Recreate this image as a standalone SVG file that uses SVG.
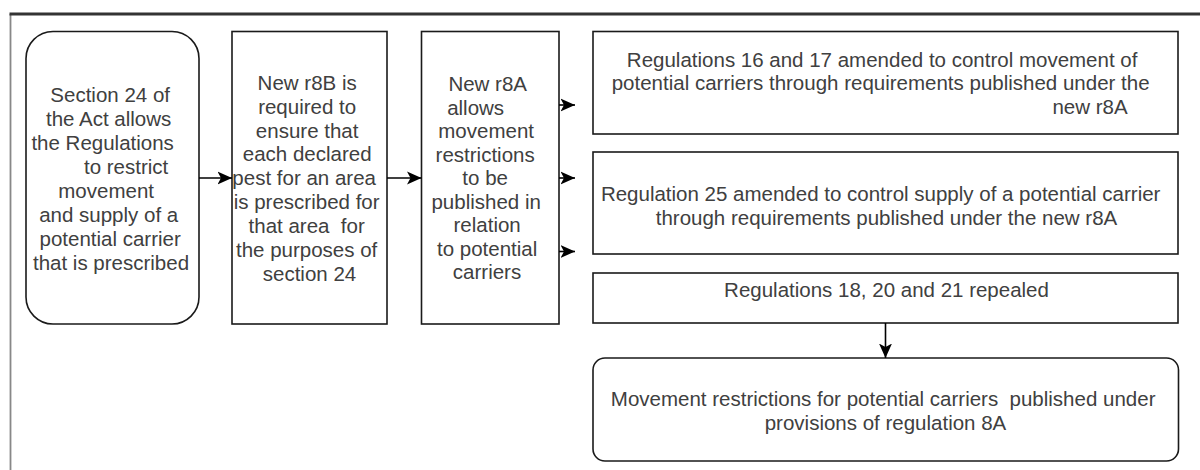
<svg xmlns="http://www.w3.org/2000/svg" width="1200" height="470" viewBox="0 0 1200 470">
  <style>
    .box { fill: #ffffff; stroke: #1a1a1a; stroke-width: 1.6; }
    .t { font-family: "Liberation Sans", Arial, sans-serif; font-size: 20.5px; fill: #404040; text-anchor: middle; }
    .edge { fill: none; stroke: #000000; stroke-width: 1.6; }
  </style>
  <defs>
    <marker id="arrow" markerUnits="userSpaceOnUse" markerWidth="15" markerHeight="14" refX="14.5" refY="7" orient="auto">
      <path d="M0,0.5 L14.5,7 L0,13.5 L3.5,7 z" fill="#000000"/>
    </marker>
  </defs>
  <rect width="1200" height="470" fill="#ffffff"/>
  <g id="frame">
    <line x1="10.5" y1="14" x2="10.5" y2="470" stroke="#888888" stroke-width="1.8"/>
    <line x1="9.5" y1="14" x2="1200" y2="14" stroke="#333333" stroke-width="3.2"/>
  </g>

  <g id="node-section24">
    <rect class="box" x="26" y="31.5" width="173" height="292.5" rx="27" ry="27"/>
    <text class="t">
      <tspan x="113" y="102">Section 24 of</tspan>
      <tspan x="111.5" y="126">the Act allows</tspan>
      <tspan x="105.5" y="150">the Regulations</tspan>
      <tspan x="129" y="174">to restrict</tspan>
      <tspan x="109" y="198">movement</tspan>
      <tspan x="111.5" y="222">and supply of a</tspan>
      <tspan x="113" y="246">potential carrier</tspan>
      <tspan x="111" y="270">that is prescribed</tspan>
    </text>
  </g>

  <g id="node-r8B">
    <rect class="box" x="232" y="31.5" width="155" height="292.5"/>
    <text class="t">
      <tspan x="310" y="89.5">New r8B is</tspan>
      <tspan x="310" y="113.5">required to</tspan>
      <tspan x="310" y="137.5">ensure that</tspan>
      <tspan x="310" y="161">each declared</tspan>
      <tspan x="307" y="185">pest for an area</tspan>
      <tspan x="309.5" y="209">is prescribed for</tspan>
      <tspan x="309.5" y="233">that area&#160; for</tspan>
      <tspan x="309.5" y="257">the purposes of</tspan>
      <tspan x="309.5" y="281">section 24</tspan>
    </text>
  </g>

  <g id="node-r8A">
    <rect class="box" x="421.5" y="31.5" width="137.5" height="292.5"/>
    <text class="t">
      <tspan x="490" y="91">New r8A</tspan>
      <tspan x="478.5" y="114.5">allows</tspan>
      <tspan x="489" y="138">movement</tspan>
      <tspan x="488" y="161.5">restrictions</tspan>
      <tspan x="488" y="185">to be</tspan>
      <tspan x="489" y="208.5">published in</tspan>
      <tspan x="490" y="232">relation</tspan>
      <tspan x="490" y="255.5">to potential</tspan>
      <tspan x="487" y="279">carriers</tspan>
    </text>
  </g>

  <g id="node-reg16-17">
    <rect class="box" x="593" y="31.5" width="585" height="102.5"/>
    <text class="t">
      <tspan x="885" y="66.5">Regulations 16 and 17 amended to control movement of</tspan>
      <tspan x="883.5" y="90">potential carriers through requirements published under the</tspan>
      <tspan x="1090" y="113.5">new r8A</tspan>
    </text>
  </g>

  <g id="node-reg25">
    <rect class="box" x="593" y="152" width="585" height="102"/>
    <text class="t">
      <tspan x="883.5" y="201">Regulation 25 amended to control supply of a potential carrier</tspan>
      <tspan x="886.5" y="225">through requirements published under the new r8A</tspan>
    </text>
  </g>

  <g id="node-reg18-20-21">
    <rect class="box" x="593" y="273" width="585" height="50"/>
    <text class="t">
      <tspan x="886.5" y="297">Regulations 18, 20 and 21 repealed</tspan>
    </text>
  </g>

  <g id="node-movement-restrictions">
    <rect class="box" x="593" y="358" width="585.5" height="103" rx="12" ry="12"/>
    <text class="t">
      <tspan x="886" y="405.5">Movement restrictions for potential carriers&#160; published under</tspan>
      <tspan x="885.5" y="429.5">provisions of regulation 8A</tspan>
    </text>
  </g>

  <g id="connectors">
    <line class="edge" x1="199" y1="178" x2="232" y2="178" marker-end="url(#arrow)"/>
    <line class="edge" x1="387" y1="178" x2="421.5" y2="178" marker-end="url(#arrow)"/>
    <line class="edge" x1="559" y1="105" x2="575" y2="105" marker-end="url(#arrow)"/>
    <line class="edge" x1="559" y1="178" x2="575" y2="178" marker-end="url(#arrow)"/>
    <line class="edge" x1="559" y1="251.5" x2="575" y2="251.5" marker-end="url(#arrow)"/>
    <line class="edge" x1="885.5" y1="323" x2="885.5" y2="358" marker-end="url(#arrow)"/>
  </g>
</svg>
